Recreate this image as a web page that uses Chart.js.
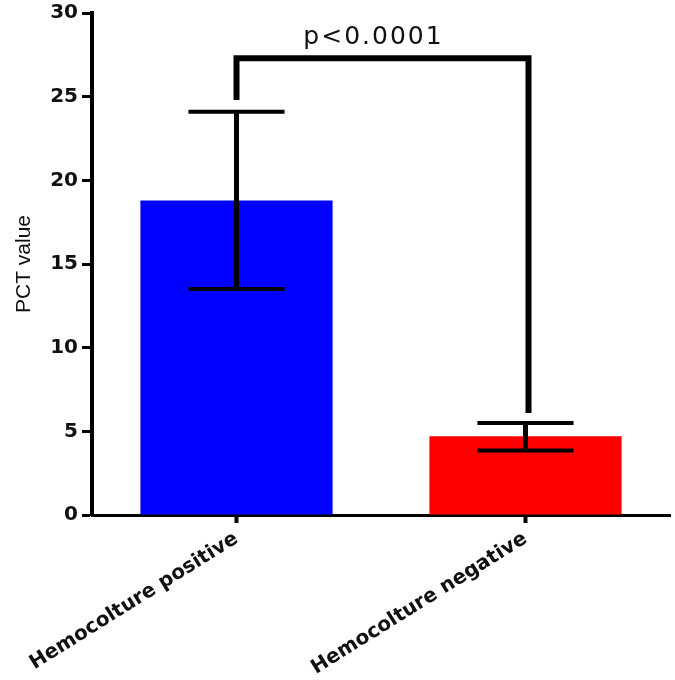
<!DOCTYPE html>
<html>
<head>
<meta charset="utf-8">
<script src="https://cdn.jsdelivr.net/npm/chart.js@4/dist/chart.umd.min.js"></script>
<style>
  html, body { margin: 0; padding: 0; background: #fff; }
  #wrap { width: 675px; height: 680px; position: relative; }
</style>
</head>
<body>
<div id="wrap"><canvas id="pctChart"></canvas></div>
<script>
// data
const categories = ['Hemocolture positive', 'Hemocolture negative'];
const meanValues = [18.8, 4.7];
const errUpper = [24.1, 5.5];
const errLower = [13.5, 3.85];
const barColors = ['#0000FF', '#FF0000'];
const yTicks = [0, 5, 10, 15, 20, 25, 30];

// significance bracket
const pLabel = 'p<0.0001';
const bracketTop = 27.3;
const bracketEnds = [24.8, 6.1];

const errorBars = {
    id: 'errorBars',
    afterDatasetsDraw(chart) {
        const ctx = chart.ctx;
        const y = chart.scales.y;
        const bars = chart.getDatasetMeta(0).data;
        ctx.save();
        ctx.strokeStyle = '#000';
        bars.forEach((bar, i) => {
            const capHalf = bar.width * 0.25;
            const yTop = y.getPixelForValue(errUpper[i]);
            const yBot = y.getPixelForValue(errLower[i]);
            ctx.lineWidth = 5;
            ctx.beginPath();
            ctx.moveTo(bar.x, yTop);
            ctx.lineTo(bar.x, yBot);
            ctx.stroke();
            ctx.lineWidth = 4;
            ctx.beginPath();
            ctx.moveTo(bar.x - capHalf, yTop);
            ctx.lineTo(bar.x + capHalf, yTop);
            ctx.moveTo(bar.x - capHalf, yBot);
            ctx.lineTo(bar.x + capHalf, yBot);
            ctx.stroke();
        });

        // bracket
        const x1 = bars[0].x;
        const x2 = bars[1].x + 3;
        const yb = y.getPixelForValue(bracketTop);
        ctx.lineWidth = 6;
        ctx.beginPath();
        ctx.moveTo(x1, y.getPixelForValue(bracketEnds[0]));
        ctx.lineTo(x1, yb);
        ctx.lineTo(x2, yb);
        ctx.lineTo(x2, y.getPixelForValue(bracketEnds[1]));
        ctx.stroke();

        ctx.fillStyle = '#111';
        ctx.font = '25px "DejaVu Sans", sans-serif';
        ctx.letterSpacing = '2px';
        ctx.textAlign = 'center';
        ctx.textBaseline = 'alphabetic';
        ctx.fillText(pLabel, (x1 + x2) / 2 - 9, yb - 14);
        ctx.restore();
    }
};

new Chart(document.getElementById('pctChart').getContext('2d'), {
    type: 'bar',
    data: {
        labels: categories,
        datasets: [{
            data: meanValues,
            backgroundColor: barColors,
            borderWidth: 0,
            barPercentage: 0.665,
            categoryPercentage: 1
        }]
    },
    options: {
        responsive: true,
        maintainAspectRatio: false,
        animation: false,
        layout: { padding: { top: 12, right: 5, left: 0, bottom: 0 } },
        plugins: {
            legend: { display: false },
            tooltip: { enabled: false }
        },
        scales: {
            x: {
                afterFit: (scale) => {
                    scale.height = 165;
                    scale.paddingLeft = 0;
                    scale.paddingRight = 0;
                },
                border: { display: true, color: '#000', width: 3 },
                grid: {
                    offset: false,
                    drawOnChartArea: false,
                    drawTicks: true,
                    tickLength: 8,
                    tickWidth: 4,
                    tickColor: '#000'
                },
                ticks: {
                    color: '#111',
                    font: { family: '"DejaVu Sans", sans-serif', size: 20, weight: 'bold' },
                    minRotation: 32,
                    maxRotation: 32,
                    padding: 4
                }
            },
            y: {
                min: 0,
                max: 30,
                afterFit: (scale) => { scale.width = 92; },
                afterBuildTicks: (scale) => { scale.ticks = yTicks.map(v => ({ value: v })); },
                border: { display: true, color: '#000', width: 4 },
                grid: {
                    drawOnChartArea: false,
                    drawTicks: true,
                    tickLength: 10,
                    tickWidth: 3,
                    tickColor: '#000'
                },
                ticks: {
                    color: '#111',
                    font: { family: '"DejaVu Sans", sans-serif', size: 20, weight: 'bold', lineHeight: 0.9 },
                    padding: 4
                },
                title: {
                    display: true,
                    text: 'PCT value',
                    color: '#111',
                    font: { family: '"Liberation Sans", Arial, sans-serif', size: 21 },
                    padding: { top: 12, bottom: 0 }
                }
            }
        }
    },
    plugins: [errorBars]
});
</script>
</body>
</html>
